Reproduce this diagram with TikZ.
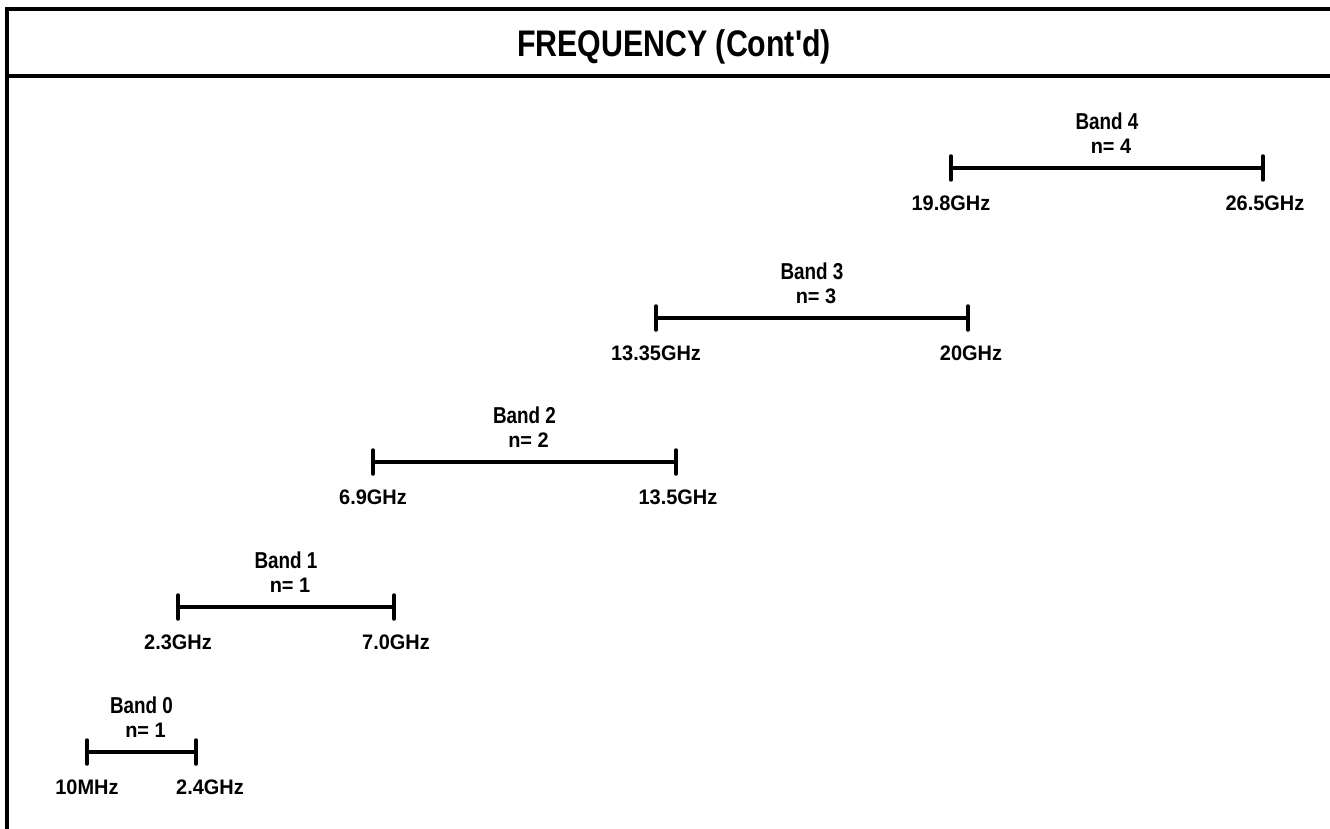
\documentclass[tikz,border=0pt]{standalone}
\usepackage{fontspec}
\setmainfont{Liberation Sans}
\newfontfamily\condfont[FakeStretch=0.82]{Liberation Sans}
\newfontfamily\labfont[FakeStretch=0.95]{Liberation Sans}
\usetikzlibrary{positioning}

\begin{document}
\begin{tikzpicture}[x=1pt,y=-1pt,
    frame/.style={line width=3.5pt},
    bandline/.style={line width=3.5pt},
    bandtick/.style={line width=3.5pt,line cap=round},
    bandname/.style={font={\condfont\bfseries\fontsize{23}{26}\selectfont},inner sep=0pt},
    bandnum/.style={font={\labfont\bfseries\fontsize{21}{24}\selectfont},inner sep=0pt},
    freq/.style={font={\labfont\bfseries\fontsize{21}{24}\selectfont},inner sep=0pt}]
    \useasboundingbox (0,0) rectangle (1330,829);
    % frame and title
    \coordinate (tl) at (7,9);
    \coordinate (tr) at (1330,9);
    \coordinate (ml) at (7,76);
    \coordinate (mr) at (1330,76);
    \coordinate (bl) at (7,829);
    \draw[frame] (tr)--(tl)--(bl);
    \draw[frame] (ml)--(mr);
    \node[font={\condfont\bfseries\fontsize{37}{40}\selectfont},inner sep=0pt,text depth=0pt] (title) at (674,43) {FREQUENCY (Cont'd)};
    % bands
    \foreach \i/\xl/\xr/\y/\n/\fl/\fr/\dx in {0/87/196/752/1/10MHz/2.4GHz/14,
                                              1/178/394/607/1/2.3GHz/7.0GHz/2,
                                              2/373/676/462/2/6.9GHz/13.5GHz/2,
                                              3/656/968/318/3/13.35GHz/20GHz/3,
                                              4/951/1263/168/4/19.8GHz/26.5GHz/2}
    {
        \coordinate (l\i) at (\xl,\y);
        \coordinate (r\i) at (\xr,\y);
        \draw[bandline] (l\i)--(r\i);
        \draw[bandtick] ([yshift=12pt]l\i)--([yshift=-12pt]l\i);
        \draw[bandtick] ([yshift=12pt]r\i)--([yshift=-12pt]r\i);
        \node[bandname] (name\i) at ({(\xl+\xr)/2},\y-47) {Band \i};
        \node[bandnum] (num\i) at ({(\xl+\xr)/2+4},\y-22) {n= \n};
        \node[freq] (lo\i) at (\xl,\y+35) {\fl};
        \node[freq] (hi\i) at (\xr+\dx,\y+35) {\fr};
    }
\end{tikzpicture}
\end{document}
